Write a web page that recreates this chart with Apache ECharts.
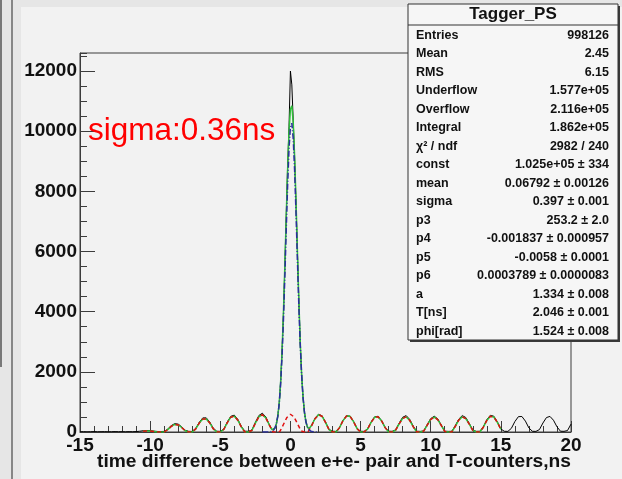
<!DOCTYPE html>
<html>
<head>
<meta charset="utf-8">
<script src="https://cdn.jsdelivr.net/npm/echarts@6/dist/echarts.min.js"></script>
<style>
  html, body { margin: 0; padding: 0; background: #f2f2f2; }
  #c { width: 622px; height: 479px; }
</style>
</head>
<body>
<div id="c"></div>
<script>
// Histogram counts, 0.25 ns sampling from -15 to -1.75 ns
const histLeft = [
  8, 12, 6, 10,
  14, 8, 10, 12,
  7, 10, 14, 9,
  11, 8, 12, 10,
  14, 25, 42, 50,
  45, 30, 18, 15,
  20, 95, 210, 278,
  262, 170, 58, 22,
  18, 120, 322, 468,
  470, 330, 125, 25,
  20, 98, 335, 522,
  560, 418, 185, 28,
  22, 65, 320, 548,
  625, 500
];
// Histogram counts around the coincidence peak, 0.1 ns sampling from -1.5 to 1.5 ns
const histPeak = [
  235, 150, 80, 62, 125, 270, 525, 950, 1650, 2650,
  3900, 5500, 7200, 8850, 10150, 12000, 11540, 10350, 9100, 7600,
  5950, 4350, 2950, 1900, 1150, 660, 365, 185, 110, 145,
  215
];
// Histogram counts, 0.25 ns sampling from 1.75 to 20 ns
const histRight = [
  450, 590, 540, 330, 85, 25, 20,
  150, 385, 540, 525, 350, 118, 24, 20,
  105, 330, 505, 522, 378, 152, 26, 22,
  70, 295, 490, 545, 420, 198, 25, 20,
  35, 245, 445, 525, 438, 232, 28, 20,
  22, 210, 430, 545, 482, 285, 60, 22,
  24, 170, 410, 555, 525, 340, 100, 24,
  20, 122, 348, 510, 515, 362, 135, 24,
  20, 80, 300, 480, 518, 392, 172, 26,
  22, 48, 262
];
// Oscillating background component of the fit, 0.25 ns sampling from -10.5 to 15 ns
const bgFit = [
  28, 35,
  31, 18, 3, 0,
  0, 79, 186, 251,
  235, 150, 42, 0,
  0, 104, 296, 430,
  431, 300, 107, 0,
  0, 84, 311, 492,
  527, 393, 169, 0,
  0, 51, 292, 507,
  578, 463, 229, 3,
  0, 19, 249, 484,
  590, 505, 280, 39,
  0, 0, 198, 440,
  574, 525, 321, 77,
  0, 0, 145, 379,
  533, 520, 347, 112,
  0, 0, 98, 320,
  488, 507, 367, 146,
  0, 0, 60, 271,
  452, 501, 390, 181,
  0, 0, 26, 226,
  418, 495, 412, 218,
  19, 0, 0, 190,
  397, 502, 447, 262,
  52, 0, 0, 159,
  385, 524, 496, 320,
  92
];
// Full fit (gaussian + background) around the peak, 0.1 ns sampling from -1.5 to 1.5 ns
const totalPeak = [
  233, 141, 69, 63, 136, 276, 527, 943, 1641, 2648,
  3950, 5491, 7147, 8720, 9987, 10740, 10846, 10283, 9151, 7640,
  5978, 4373, 2982, 1893, 1146, 655, 351, 177, 101, 139,
  213
];
// Gaussian component of the fit, 0.1 ns sampling from -2 to 2 ns
const gaussFit = [
  0, 0, 1, 0, 1, 4, 11, 27, 63, 136,
  276, 527, 943, 1586, 2500, 3701, 5141, 6703, 8201, 9418,
  10150, 10267, 9746, 8683, 7260, 5698, 4196, 2900, 1881, 1146,
  655, 351, 177, 83, 37, 15, 6, 2, 1, 0,
  0
];

// Statistics box contents
const statTitle = 'Tagger_PS';
const statNames = ['Entries', 'Mean', 'RMS', 'Underflow', 'Overflow', 'Integral',
  'χ² / ndf', 'const', 'mean', 'sigma', 'p3', 'p4', 'p5', 'p6', 'a', 'T[ns]', 'phi[rad]'];
const statValues = ['998126', '2.45', '6.15', '1.577e+05', '2.116e+05', '1.862e+05',
  '2982 / 240', '1.025e+05 ± 334', '0.06792 ± 0.00126', '0.397 ± 0.001', '253.2 ± 2.0',
  '-0.001837 ± 0.000957', '-0.0058 ± 0.0001', '0.0003789 ± 0.0000083', '1.334 ± 0.008',
  '2.046 ± 0.001', '1.524 ± 0.008'];

const xTitle = 'time difference between e+e- pair and T-counters,ns';
const sigmaNote = 'sigma:0.36ns';

const FONT = '"Liberation Sans", Arial, Helvetica, sans-serif';

function toPoints(x0, dx, ys) {
  return ys.map((y, i) => [Math.round((x0 + i * dx) * 100) / 100, y]);
}

const histPts = [
  ...toPoints(-15, 0.25, histLeft),
  ...toPoints(-1.5, 0.1, histPeak),
  ...toPoints(1.75, 0.25, histRight)
];
const bgPts = toPoints(-10.5, 0.25, bgFit);
const totalPts = [
  ...bgPts.filter(p => p[0] < -1.55),
  ...toPoints(-1.5, 0.1, totalPeak),
  ...bgPts.filter(p => p[0] > 1.55)
];
const gaussPts = toPoints(-2, 0.1, gaussFit);

// Statistics box graphics
const BOX = { x: 408, y: 4, w: 210, h: 336 };
const statGraphics = [
  { type: 'rect', z: 100, shape: { x: BOX.x + 2, y: BOX.y + 2, width: BOX.w, height: BOX.h },
    style: { fill: '#3a3a3a' } },
  { type: 'rect', z: 101, shape: { x: BOX.x, y: BOX.y, width: BOX.w, height: BOX.h },
    style: { fill: '#f6f6f6', stroke: '#333', lineWidth: 1 } },
  { type: 'line', z: 102, shape: { x1: BOX.x, y1: 25, x2: BOX.x + BOX.w, y2: 25 },
    style: { stroke: '#333', lineWidth: 1 } },
  { type: 'text', z: 102, x: BOX.x + BOX.w / 2, y: 14.5,
    style: { text: statTitle, font: 'bold 17px ' + FONT, fill: '#111', textAlign: 'center', textVerticalAlign: 'middle' } }
];
statNames.forEach((name, i) => {
  const y = 35.5 + 18.5 * i;
  statGraphics.push({ type: 'text', z: 102, x: 416, y: y,
    style: { text: name, font: 'bold 12.5px ' + FONT, fill: '#111', textAlign: 'left', textVerticalAlign: 'middle' } });
  statGraphics.push({ type: 'text', z: 102, x: 609, y: y,
    style: { text: statValues[i], font: 'bold 12.5px ' + FONT, fill: '#111', textAlign: 'right', textVerticalAlign: 'middle' } });
});

const plainNumber = v => String(v);

const chart = echarts.init(document.getElementById('c'), null, { renderer: 'canvas' });
chart.setOption({
  animation: false,
  backgroundColor: '#f2f2f2',
  grid: {
    left: 80, top: 53, width: 491, height: 379,
    show: true, borderColor: '#3c3c3c', borderWidth: 1, backgroundColor: '#f2f2f2'
  },
  xAxis: {
    type: 'value', min: -15, max: 20, interval: 5,
    axisLine: { show: true, onZero: false, lineStyle: { color: '#3c3c3c', width: 1 } },
    axisTick: { show: true, inside: true, length: 11, lineStyle: { color: '#3c3c3c' } },
    minorTick: { show: true, splitNumber: 5, length: 6, lineStyle: { color: '#3c3c3c' } },
    axisLabel: { margin: 4, formatter: plainNumber, fontFamily: FONT, fontWeight: 'bold', fontSize: 19, color: '#111' },
    splitLine: { show: false }
  },
  yAxis: [
    {
      type: 'value', min: 0, max: 12600, interval: 2000,
      axisLine: { show: true, onZero: false, lineStyle: { color: '#3c3c3c', width: 1 } },
      axisTick: { show: true, inside: true, length: 15, lineStyle: { color: '#3c3c3c' } },
      axisLabel: { margin: 3, showMaxLabel: false, formatter: plainNumber, fontFamily: FONT, fontWeight: 'bold', fontSize: 19, color: '#111' },
      splitLine: { show: false }
    },
    {
      type: 'value', position: 'left', min: 0, max: 12600, interval: 500,
      axisLine: { show: false, onZero: false },
      axisTick: { show: true, inside: true, length: 7, lineStyle: { color: '#3c3c3c' } },
      axisLabel: { show: false },
      splitLine: { show: false }
    }
  ],
  series: [
    {
      name: 'Tagger_PS', type: 'line', data: histPts, symbol: 'none', z: 2,
      lineStyle: { color: '#000', width: 1 }
    },
    {
      name: 'total fit', type: 'line', data: totalPts, symbol: 'none', z: 3,
      lineStyle: { color: '#2fbf3a', width: 1.5 }
    },
    {
      name: 'background', type: 'line', data: bgPts, symbol: 'none', z: 4,
      lineStyle: { color: '#e01010', width: 1.5, type: [4, 3] }
    },
    {
      name: 'gaussian', type: 'line', data: gaussPts, symbol: 'none', z: 5,
      lineStyle: { color: '#2a2f9e', width: 1.5, type: [6, 2, 1, 2] }
    }
  ],
  graphic: [
    // window edge on the left and top
    { type: 'rect', shape: { x: 0, y: 0, width: 21, height: 479 }, style: { fill: '#e6e6e6' } },
    { type: 'rect', shape: { x: 21, y: 0, width: 601, height: 7 }, style: { fill: '#e6e6e6' } },
    { type: 'line', shape: { x1: 1, y1: 0, x2: 1, y2: 367 }, style: { stroke: '#555', lineWidth: 1.5 } },
    { type: 'line', shape: { x1: 12, y1: 0, x2: 12, y2: 479 }, style: { stroke: '#666', lineWidth: 1.5 } },
    // annotation and axis title
    { type: 'text', x: 88, y: 131, z: 50,
      style: { text: sigmaNote, font: '31.5px ' + FONT, fill: '#ff0000', textAlign: 'left', textVerticalAlign: 'middle' } },
    { type: 'text', x: 571, y: 462, z: 50,
      style: { text: xTitle, font: 'bold 19.2px ' + FONT, fill: '#111', textAlign: 'right', textVerticalAlign: 'middle' } },
    ...statGraphics
  ]
});
</script>
</body>
</html>
